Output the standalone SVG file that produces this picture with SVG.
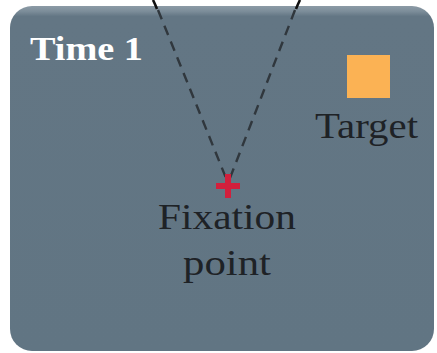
<svg xmlns="http://www.w3.org/2000/svg" width="437" height="353" viewBox="0 0 437 353">
<defs>
<style>
.lbl{font-family:"Liberation Serif","DejaVu Serif",serif;fill:#1e2226;font-size:36px;text-anchor:middle}
.title{font-family:"Liberation Serif","DejaVu Serif",serif;fill:#ffffff;font-size:34px;font-weight:bold}
.dash{stroke:#30373d;stroke-width:2.4;stroke-dasharray:10,7;fill:none}
</style>
<linearGradient id="pg" x1="0" y1="0" x2="0" y2="1">
<stop offset="0" stop-color="#8c9ba6"/>
<stop offset="0.015" stop-color="#7d8e9a"/>
<stop offset="0.03" stop-color="#637684"/>
<stop offset="1" stop-color="#617583"/>
</linearGradient>
</defs>
<rect width="437" height="353" fill="#ffffff"/>
<g id="panel">
<rect x="10" y="6" width="424" height="345" rx="22" ry="22" fill="url(#pg)"/>
<text class="title" x="30" y="60" textLength="113" lengthAdjust="spacingAndGlyphs">Time 1</text>
</g>
<g id="connectors">
<path d="M153,0 Q155,4 157,9" stroke="#111" stroke-width="2.6" fill="none"/>
<path d="M300,0 Q298,4 296,9" stroke="#111" stroke-width="2.6" fill="none"/>
<line class="dash" x1="158" y1="10" x2="226" y2="178"/>
<line class="dash" x1="295" y1="10" x2="230" y2="178"/>
</g>
<g id="target">
<rect x="347" y="55" width="43" height="43" fill="#fbb254"/>
<text class="lbl" x="366.5" y="138" textLength="103" lengthAdjust="spacingAndGlyphs">Target</text>
</g>
<g id="fixation">
<rect x="216" y="183" width="24" height="6" fill="#d21f3c"/>
<rect x="225" y="174" width="6" height="24" fill="#d21f3c"/>
<text class="lbl" x="227" y="229" textLength="138" lengthAdjust="spacingAndGlyphs">Fixation</text>
<text class="lbl" x="227" y="275" textLength="88" lengthAdjust="spacingAndGlyphs">point</text>
</g>
</svg>
